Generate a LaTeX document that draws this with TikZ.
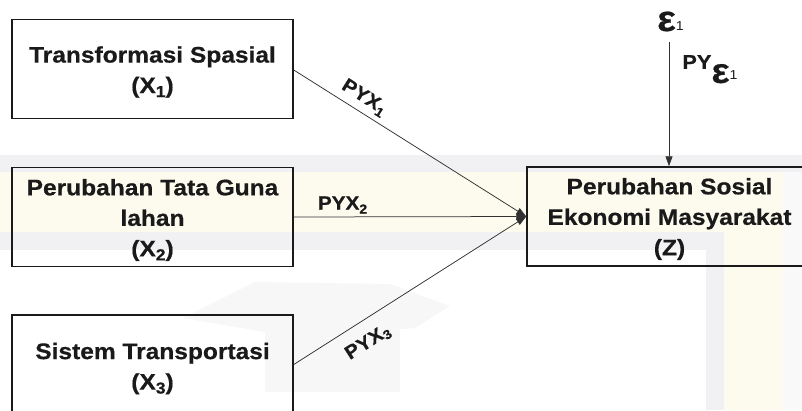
\documentclass[tikz,border=0pt]{standalone}
\usepackage{fontspec}
\setmainfont{Liberation Sans}[FakeStretch=1.09, BoldFeatures={FakeBold=0.6}]
\usetikzlibrary{arrows.meta}
\definecolor{wmgray}{HTML}{F1F1F3}
\definecolor{wmcream}{HTML}{FDFBEE}
\definecolor{wmlogo}{HTML}{F7F7F7}
\definecolor{ink}{HTML}{1A1A1A}
% index at a given size, lowered by a given amount
\newcommand\idx[3]{\raisebox{-#2}{\fontsize{#1}{#1}\selectfont #3}}
\begin{document}
\begin{tikzpicture}[x=1pt,y=-1pt,
  box/.style={draw=ink, line width=1.5pt, minimum width=281pt, minimum height=99pt, inner sep=0pt},
  boxtext/.style={align=center, inner sep=0pt, text=ink, font=\fontsize{22.5}{30.5}\selectfont\bfseries},
  conn/.style={draw=ink!90, line width=0.75pt, -{Triangle[length=10pt,width=7pt]}},
  lbl/.style={inner sep=1pt, text=ink, font=\fontsize{19}{19}\selectfont\bfseries}]
\useasboundingbox (0,0) rectangle (802,410);
\clip (0,0) rectangle (802,410);

% faint background bands and emblem
\fill[wmgray] (0,155) rectangle (802,250);
\fill[wmcream] (0,172) rectangle (783,232);
\fill[wmgray] (706,232) rectangle (802,410);
\fill[wmcream] (724,172) rectangle (783,410);
\fill[white!60!wmgray] (783,172) rectangle (802,410);
\fill[wmlogo] (183,318) -- (255,282) -- (390,284) -- (450,306) -- (415,328) -- (300,338) -- cycle;
\fill[wmlogo] (265,330) rectangle (400,392);

% boxes
\node[box] (b1) at (152.5,69) {};
\node[boxtext] (t1) at ([yshift=-3pt]b1.center) {Transformasi Spasial\\(X\idx{16}{4pt}{1})};
\node[box] (b2) at (152.5,217) {};
\node[boxtext] (t2) at ([yshift=-3pt]b2.center) {Perubahan Tata Guna\\lahan\\(X\idx{16}{4pt}{2})};
\node[box] (b3) at (152.5,364.5) {};
\node[boxtext] (t3) at ([yshift=-4pt]b3.center) {Sistem Transportasi\\(X\idx{16}{4pt}{3})};
\node[box, minimum width=285pt] (z) at (669.5,216.5) {};
\node[boxtext] (tz) at ([yshift=-2.5pt]z.center) {Perubahan Sosial\\Ekonomi Masyarakat\\(Z)};

% error term
\node[anchor=base west, inner sep=0pt, text=ink] (eps) at (657,31)
  {\fontsize{36}{36}\selectfont\bfseries ε\raisebox{1pt}{\fontsize{13}{13}\selectfont\mdseries 1}};
\coordinate (e0) at (669,42);

% paths
\draw[conn] ([yshift=-1pt]b1.east) -- (z.west)
  node[lbl, pos=0.27, sloped, above=4pt] {PYX\idx{13}{4pt}{1}};
\draw[conn] (b2.east) -- (z.west)
  node[lbl, pos=0.21, above=2pt] {PYX\idx{13}{4pt}{2}};
\draw[conn] (b3.east) -- (z.west)
  node[lbl, pos=0.27, sloped, below=12pt] {PYX\idx{13}{3pt}{3}};
\draw[conn] (e0) -- (e0 |- z.north)
  node[pos=0.12, anchor=base west, inner sep=0pt, xshift=13pt, yshift=-12pt, text=ink]
  {\fontsize{20}{20}\selectfont\bfseries PY\raisebox{-14pt}{\fontsize{35}{35}\selectfont ε}\raisebox{-11pt}{\fontsize{13}{13}\selectfont\mdseries 1}};
\end{tikzpicture}
\end{document}
